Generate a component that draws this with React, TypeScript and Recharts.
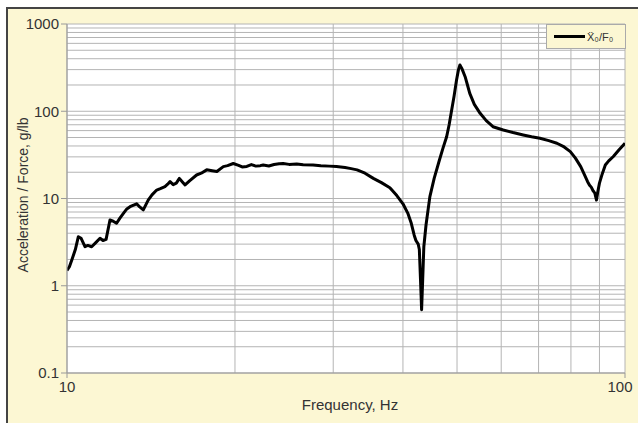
import React from "react";
import { LineChart, Line, XAxis, YAxis, CartesianGrid } from "recharts";

// frequency (Hz) and acceleration / force (g/lb)
const freqHz = [
  10.0, 10.1, 10.2, 10.35, 10.48, 10.6, 10.77, 10.9, 11.07, 11.25, 11.46, 11.6, 11.75,
  11.94, 12.1, 12.27, 12.45, 12.62, 12.8, 12.97, 13.33, 13.5, 13.7, 13.98, 14.2, 14.48,
  14.7, 14.98, 15.15, 15.3, 15.5, 15.7, 15.9, 16.1, 16.28, 16.6, 17.07, 17.4, 17.8, 18.2,
  18.56, 19.06, 19.4, 19.86, 20.3, 20.6, 21.0, 21.4, 21.8, 22.2, 22.47, 23.0, 23.5, 24.0,
  24.4, 25.0, 25.8, 26.5, 27.6, 28.5, 29.5, 30.4, 31.5, 32.3, 33.1, 34.2, 35.4, 36.6,
  37.9, 39.0, 40.0, 40.8, 41.4, 41.9, 42.2, 42.6, 42.8, 43.0, 43.2, 43.4, 43.6, 44.0,
  44.7, 45.5, 46.5, 47.2, 47.9, 48.4, 48.9, 49.4, 49.9, 50.3, 50.6, 51.0, 51.7, 52.2,
  52.7, 53.7, 55.0, 56.4, 58.0, 60.5, 63.0, 65.7, 68.0, 70.4, 73.0, 75.5, 77.8, 79.8,
  81.5, 83.3, 84.5, 85.7, 86.4, 87.0, 87.7, 88.3, 88.9, 89.4, 90.0, 91.0, 92.2, 93.5,
  95.3, 97.5, 100.0,
];
const accelPerForce = [
  1.5, 1.65, 1.97, 2.6, 3.65, 3.5, 2.8, 2.9, 2.8, 3.1, 3.5, 3.3, 3.4,
  5.67, 5.5, 5.2, 6.0, 6.76, 7.6, 8.05, 8.7, 8.0, 7.4, 9.6, 11.0, 12.5,
  13.0, 13.7, 14.6, 15.6, 14.4, 15.0, 17.0, 15.5, 14.3, 16.0, 18.6, 19.5, 21.3, 20.8,
  20.4, 23.2, 23.8, 25.2, 24.0, 23.0, 23.3, 24.5, 23.5, 23.8, 24.2, 23.6, 24.5, 25.0,
  25.2, 24.6, 24.8, 24.3, 24.2, 23.8, 23.5, 23.3, 22.6, 22.0, 21.3, 19.5, 17.0, 15.2,
  13.3, 10.8, 8.7, 6.8, 5.2, 3.8, 3.3, 3.0, 2.6, 1.2, 0.53, 1.2, 2.8, 5.0,
  10.5, 17, 27.6, 38, 51, 70, 103, 150, 228, 300, 339, 310, 249, 200,
  160, 120, 94.7, 78, 66.5, 61, 57, 53.5, 51, 49, 46, 43, 39, 34.5,
  29, 23.2, 19, 15.6, 14.2, 13.5, 12.2, 11.5, 9.6, 12, 15, 19, 24.2, 27,
  30.3, 36, 43,
];

const xTicks = [10, 20, 30, 40, 50, 60, 70, 80, 90, 100];
const xLabels = [10, 100];
const yTicks = [
  0.1, 0.2, 0.3, 0.4, 0.5, 0.6, 0.7, 0.8, 0.9,
  1, 2, 3, 4, 5, 6, 7, 8, 9,
  10, 20, 30, 40, 50, 60, 70, 80, 90,
  100, 200, 300, 400, 500, 600, 700, 800, 900,
  1000,
];
const yLabels = [0.1, 1, 10, 100, 1000];

const chartData = freqHz.map((f, i) => ({ f, v: accelPerForce[i] }));

const cream = "#fcf7d3";
const gridGray = "#b4b4b4";
const font = '"Liberation Sans", Arial, sans-serif';

function XTick({ x, y, payload }: any) {
  if (!xLabels.includes(payload.value)) return <g />;
  const last = payload.value === 100;
  return (
    <g>
      <line x1={x} x2={x} y1={y - 8} y2={y - 3} stroke="#999" />
      <text x={last ? x - 5 : x} y={y} dy="0.71em" textAnchor="middle" fontSize={15} fill="#333" fontFamily={font}>
        {payload.value}
      </text>
    </g>
  );
}

function YTick({ x, y, payload }: any) {
  if (!yLabels.includes(payload.value)) return <g />;
  return (
    <g>
      <line x1={x + 2} x2={x + 8} y1={y} y2={y} stroke="#999" />
      <text x={x} y={y} dy="0.35em" textAnchor="end" fontSize={15} fill="#333" fontFamily={font}>
        {payload.value}
      </text>
    </g>
  );
}

export default function App() {
  return (
    <div style={{ position: "fixed", left: 0, top: 0, width: 638, height: 423, background: "#fff", overflow: "hidden" }}>
      <div
        style={{
          position: "absolute",
          left: 6,
          top: 7,
          right: 0,
          bottom: 0,
          background: cream,
          borderTop: "2px solid #444",
          borderLeft: "2px solid #444",
        }}
      />
      <div style={{ position: "absolute", left: 0, top: 0 }}>
        <LineChart width={638} height={423} data={chartData} margin={{ top: 24, right: 13, left: 0, bottom: 0 }}>
          <CartesianGrid stroke={gridGray} fill="#fff" fillOpacity={1} />
          <XAxis
            dataKey="f"
            type="number"
            scale="log"
            domain={[10, 100]}
            ticks={xTicks}
            interval={0}
            allowDataOverflow
            height={50}
            tickLine={false}
            axisLine={{ stroke: "#999" }}
            tick={<XTick />}
            label={() => (
              <text x={350} y={410} textAnchor="middle" fontSize={15} fill="#333" fontFamily={font}>
                Frequency, Hz
              </text>
            )}
          />
          <YAxis
            type="number"
            scale="log"
            domain={[0.1, 1000]}
            ticks={yTicks}
            interval={0}
            allowDataOverflow
            width={67}
            tickLine={false}
            axisLine={{ stroke: "#999" }}
            tick={<YTick />}
            label={() => (
              <text
                x={23}
                y={195}
                transform="rotate(-90 23 195)"
                textAnchor="middle"
                dominantBaseline="central"
                fontSize={14}
                fill="#333"
                fontFamily={font}
              >
                Acceleration / Force, g/lb
              </text>
            )}
          />
          <Line
            type="linear"
            dataKey="v"
            stroke="#000"
            strokeWidth={3}
            dot={false}
            strokeLinejoin="round"
            isAnimationActive={false}
          />
        </LineChart>
      </div>
      <div
        style={{
          position: "absolute",
          left: 546,
          top: 24,
          width: 78,
          height: 23,
          background: cream,
          border: "1px solid #aaa",
          display: "flex",
          alignItems: "center",
          fontFamily: font,
        }}
      >
        <span style={{ display: "inline-block", width: 31, height: 3, background: "#000", marginLeft: 7 }} />
        <span style={{ fontSize: 11, color: "#333", marginLeft: 2 }}>Ẍ₀/F₀</span>
      </div>
    </div>
  );
}
